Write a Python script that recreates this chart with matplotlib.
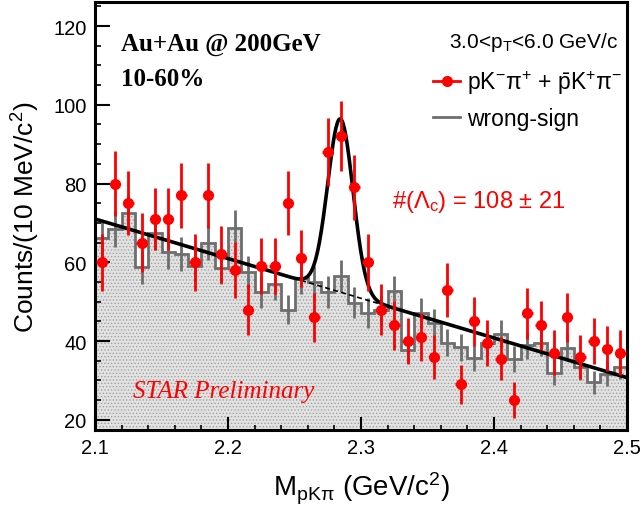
import numpy as np
import matplotlib.pyplot as plt
from matplotlib.lines import Line2D
from matplotlib.ticker import MultipleLocator

plt.rcParams['font.family'] = ['Liberation Sans', 'DejaVu Sans']
plt.rcParams['mathtext.fontset'] = 'custom'
plt.rcParams['mathtext.rm'] = 'Liberation Sans'
plt.rcParams['mathtext.it'] = 'Liberation Sans:italic'
plt.rcParams['mathtext.bf'] = 'Liberation Sans:bold'
plt.rcParams['hatch.linewidth'] = 0.6

# 10 MeV bins, 2.10 - 2.50 GeV/c^2
bin_edges = np.round(np.arange(2.10, 2.5001, 0.01), 3)
bin_centers = (bin_edges[:-1] + bin_edges[1:]) / 2

# right-sign pK-pi+ + c.c. counts
counts = [60, 80, 75, 65, 71, 71, 77, 60, 77, 62,
          58, 48, 59, 59, 75, 61, 46, 88, 92, 79,
          60, 48, 44, 40, 41, 36, 53, 29, 45, 39.5,
          35.5, 25, 47, 44, 37, 46, 36, 40, 38, 37]
count_err = [7.2, 8.3, 8.1, 7.5, 7.8, 7.8, 8.2, 7.2, 8.2, 7.3,
             7.1, 6.4, 7.1, 7.1, 8.1, 7.3, 6.3, 8.7, 8.9, 8.3,
             7.2, 6.4, 6.2, 5.9, 6.0, 5.6, 6.8, 5.0, 6.2, 5.8,
             5.5, 4.6, 6.4, 6.2, 5.7, 6.3, 5.6, 5.9, 5.7, 5.7]

# wrong-sign (scaled) histogram
wrong_sign = [66.1, 68.5, 72.5, 58.7, 67.5, 62.6, 62.1, 59.1, 65.0, 58.6,
              68.8, 57.5, 52.5, 54.6, 48.0, 56.0, 55.0, 52.4, 56.6, 49.7,
              47.2, 47.8, 52.6, 37.8, 47.2, 44.5, 39.6, 38.4, 35.7, 39.5,
              41.9, 35.5, 38.9, 39.5, 32.0, 38.3, 33.3, 29.5, 31.7, 33.5]
wrong_sign_err = [4.5, 4.5, 4.7, 4.2, 4.5, 4.3, 4.3, 4.2, 4.4, 4.2,
                  4.5, 4.2, 4.0, 4.1, 3.8, 4.1, 4.1, 4.0, 4.1, 3.9,
                  3.8, 3.8, 4.0, 3.4, 3.8, 3.7, 3.4, 3.4, 3.3, 3.4,
                  3.5, 3.3, 3.4, 3.4, 3.1, 3.4, 3.2, 3.0, 3.1, 3.2]

# fit: linear background + gaussian
bkg_p0, bkg_p1 = 71.0, -100.75     # p0 + p1*(m - 2.1)
sig_amp, sig_mean, sig_sigma = 44.0, 2.2845, 0.0095


def bkg(m):
    return bkg_p0 + bkg_p1 * (m - 2.1)


def fit_func(m):
    return bkg(m) + sig_amp * np.exp(-0.5 * ((m - sig_mean) / sig_sigma) ** 2)


fig = plt.figure(figsize=(6.42, 5.10), dpi=100)
ax = fig.add_axes([95 / 642, 1 - 431 / 510, (627 - 95) / 642, (431 - 3) / 510])

# shaded wrong-sign histogram
ax.stairs(wrong_sign, bin_edges, baseline=0, fill=True, facecolor='#e2e2e2',
          edgecolor='#a0a0a0', hatch='.....', linewidth=0, zorder=1)
ax.stairs(wrong_sign, bin_edges, baseline=None, color='#6e6e6e', linewidth=2, zorder=2)
ax.errorbar(bin_centers, wrong_sign, yerr=wrong_sign_err, fmt='none',
            ecolor='#6e6e6e', elinewidth=2, capsize=0, zorder=2)

# fit curves
m_fine = np.linspace(2.1, 2.5, 800)
ax.plot(m_fine, fit_func(m_fine), color='black', linewidth=2.6, zorder=4)
m_dash = np.linspace(2.255, 2.315, 50)
ax.plot(m_dash, bkg(m_dash), color='black', linewidth=1.2, linestyle=(0, (3, 2)), zorder=3)

# right-sign data
ax.errorbar(bin_centers, counts, yerr=count_err, xerr=0.004, fmt='o', color='red',
            markersize=7, elinewidth=2, capsize=0, zorder=5)

ax.set_xlim(2.1, 2.5)
ax.set_ylim(17.4, 126.1)
ax.xaxis.set_minor_locator(MultipleLocator(0.02))
ax.yaxis.set_major_locator(MultipleLocator(20))
ax.yaxis.set_minor_locator(MultipleLocator(5))
ax.set_xticks([2.1, 2.2, 2.3, 2.4, 2.5])
ax.set_xticklabels(['2.1', '2.2', '2.3', '2.4', '2.5'])
ax.tick_params(which='both', direction='in', top=False, right=False, labelsize=14.5)
ax.tick_params(axis='x', which='major', length=9.5, width=1.5, pad=6)
ax.tick_params(axis='x', which='minor', length=3.8, width=1.2)
ax.tick_params(axis='y', which='major', length=11, width=1.5, pad=6)
ax.tick_params(axis='y', which='minor', length=4.2, width=1.2)
for sp in ax.spines.values():
    sp.set_linewidth(2.2)

ax.set_xlabel(r'M$_{\mathrm{pK\pi}}$ (GeV/c$^{2}$)', fontsize=20, labelpad=9)
ax.set_ylabel(r'Counts/(10 MeV/c$^{2}$)', fontsize=19, labelpad=8)

# annotations
ax.text(0.048, 0.93, 'Au+Au @ 200GeV', transform=ax.transAxes, fontsize=18,
        fontweight='bold', family='Liberation Serif', va='top', ha='left')
ax.text(0.048, 0.847, '10-60%', transform=ax.transAxes, fontsize=18,
        fontweight='bold', family='Liberation Serif', va='top', ha='left')
ax.text(0.983, 0.935, r'3.0<p$_{\mathrm{T}}$<6.0 GeV/c', transform=ax.transAxes,
        fontsize=15, va='top', ha='right')
ax.text(0.885, 0.535, r'#($\Lambda_{\mathrm{c}}$) = 108 $\pm$ 21', transform=ax.transAxes,
        fontsize=17, color='red', va='center', ha='right')
ax.text(0.071, 0.092, 'STAR Preliminary', transform=ax.transAxes, fontsize=18,
        style='italic', family='Liberation Serif', color='red', va='center', ha='left')

handles = [Line2D([], [], color='red', marker='o', markersize=7, linewidth=2),
           Line2D([], [], color='#6e6e6e', linewidth=2)]
labels = [r'pK$^{-}\mathrm{\pi}^{+}$ + $\bar{\mathrm{p}}$K$^{+}\mathrm{\pi}^{-}$', 'wrong-sign']
ax.legend(handles, labels, loc='upper left', bbox_to_anchor=(0.635, 0.845), frameon=False,
          fontsize=16.5, handlelength=1.2, handletextpad=0.3, labelspacing=0.45,
          borderpad=0, borderaxespad=0)

fig.savefig('out.png', dpi=100)
